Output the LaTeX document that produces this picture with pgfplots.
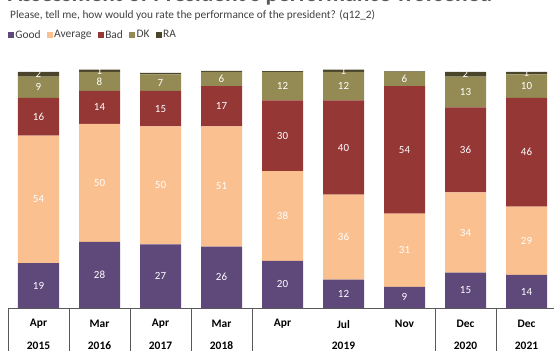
\documentclass[border=0pt]{standalone}
\usepackage{pgfplots}
\pgfplotsset{compat=1.18}
\usepackage{fontspec}
\setmainfont{Carlito}
\definecolor{cGood}{HTML}{5F497A}
\definecolor{cAvg}{HTML}{FAC090}
\definecolor{cBad}{HTML}{953735}
\definecolor{cDK}{HTML}{948A54}
\definecolor{cRA}{HTML}{4A452A}
\definecolor{txtgray}{HTML}{404040}
\definecolor{titlegray}{HTML}{595959}
\definecolor{linegray}{HTML}{595959}
\begin{document}
\begin{tikzpicture}[x=1bp,y=1bp]
\useasboundingbox (0,0) rectangle (554,350);
\clip (0,0) rectangle (554,350);
\node[anchor=base west, inner sep=0pt, font=\fontsize{23.5}{26}\selectfont\bfseries, text=titlegray] at (8,348.5) {Assessment of President's performance worsened};
\node[anchor=west, inner sep=0pt, font=\fontsize{11.4}{13}\selectfont, text=txtgray] at (10,335) {Please, tell me, how would you rate the performance of the president? (q12\_2)};
\begin{axis}[
  at={(8bp,42bp)}, anchor=south west,
  scale only axis, width=546bp, height=236bp,
  xmin=-0.5, xmax=8.451, ymin=0, ymax=100,
  ybar stacked, bar width=41bp,
  axis lines=none, xtick=\empty, ytick=\empty,
  clip=false,
  /pgf/number format/assume math mode=true,
  visualization depends on=rawy \as \rawy,
  nodes near coords={\ifdim\rawy pt<1pt\else\pgfmathprintnumber[assume math mode=true,fixed,precision=0]{\rawy}\fi},
  every node near coord/.append style={anchor=center, text=white, font=\fontsize{11}{13}\selectfont, inner sep=0pt},
  every axis plot post/.append style={draw=none, legend image code/.code={\fill[##1] (0bp,-3bp) rectangle (6bp,3bp);}},
  legend style={at={(0,1.157)}, anchor=west, draw=none, fill=none, legend columns=-1,
    inner sep=0pt, outer sep=0pt,
    font=\fontsize{11.5}{13}\selectfont, text=txtgray,
    nodes={inner sep=1.3bp},
    /tikz/every odd column/.append style={column sep=0bp},
    /tikz/every even column/.append style={column sep=5bp}},
]
\addplot[fill=cGood] coordinates {(0,19) (1,28) (2,27) (3,26) (4,20) (5,12) (6,9) (7,15) (8,14)};
\addplot[fill=cAvg] coordinates {(0,54) (1,50) (2,50) (3,51) (4,38) (5,36) (6,31) (7,34) (8,29)};
\addplot[fill=cBad] coordinates {(0,16) (1,14) (2,15) (3,17) (4,30) (5,40) (6,54) (7,36) (8,46)};
\addplot[fill=cDK] coordinates {(0,9) (1,8) (2,7) (3,6) (4,12) (5,12) (6,6) (7,13) (8,10)};
\addplot[fill=cRA] coordinates {(0,2) (1,1) (2,0.6) (3,0.5) (4,0.4) (5,1) (6,0.3) (7,2) (8,1)};
\legend{Good,Average,Bad,DK,RA}
\draw[linegray, line width=0.8bp] (axis cs:-0.5,0) -- (axis cs:8.451,0);
\draw[linegray, line width=0.8bp] (axis cs:-0.5,0) -- (axis cs:-0.5,-20);
\draw[linegray, line width=0.8bp] (axis cs:0.5,0) -- (axis cs:0.5,-20);
\draw[linegray, line width=0.8bp] (axis cs:1.5,0) -- (axis cs:1.5,-20);
\draw[linegray, line width=0.8bp] (axis cs:2.5,0) -- (axis cs:2.5,-20);
\draw[linegray, line width=0.8bp] (axis cs:3.5,0) -- (axis cs:3.5,-20);
\draw[linegray, line width=0.8bp] (axis cs:6.5,0) -- (axis cs:6.5,-20);
\draw[linegray, line width=0.8bp] (axis cs:7.5,0) -- (axis cs:7.5,-20);
\node[font=\fontsize{11.5}{13}\selectfont\bfseries] at (axis cs:0,-6.8) {Apr};
\node[font=\fontsize{11.5}{13}\selectfont\bfseries] at (axis cs:1,-6.8) {Mar};
\node[font=\fontsize{11.5}{13}\selectfont\bfseries] at (axis cs:2,-6.8) {Apr};
\node[font=\fontsize{11.5}{13}\selectfont\bfseries] at (axis cs:3,-6.8) {Mar};
\node[font=\fontsize{11.5}{13}\selectfont\bfseries] at (axis cs:4,-6.8) {Apr};
\node[font=\fontsize{11.5}{13}\selectfont\bfseries] at (axis cs:5,-6.8) {Jul};
\node[font=\fontsize{11.5}{13}\selectfont\bfseries] at (axis cs:6,-6.8) {Nov};
\node[font=\fontsize{11.5}{13}\selectfont\bfseries] at (axis cs:7,-6.8) {Dec};
\node[font=\fontsize{11.5}{13}\selectfont\bfseries] at (axis cs:8,-6.8) {Dec};
\node[font=\fontsize{11.5}{13}\selectfont\bfseries] at (axis cs:0,-16.1) {2015};
\node[font=\fontsize{11.5}{13}\selectfont\bfseries] at (axis cs:1,-16.1) {2016};
\node[font=\fontsize{11.5}{13}\selectfont\bfseries] at (axis cs:2,-16.1) {2017};
\node[font=\fontsize{11.5}{13}\selectfont\bfseries] at (axis cs:3,-16.1) {2018};
\node[font=\fontsize{11.5}{13}\selectfont\bfseries] at (axis cs:5,-16.1) {2019};
\node[font=\fontsize{11.5}{13}\selectfont\bfseries] at (axis cs:7,-16.1) {2020};
\node[font=\fontsize{11.5}{13}\selectfont\bfseries] at (axis cs:8,-16.1) {2021};
\end{axis}
\end{tikzpicture}
\end{document}
